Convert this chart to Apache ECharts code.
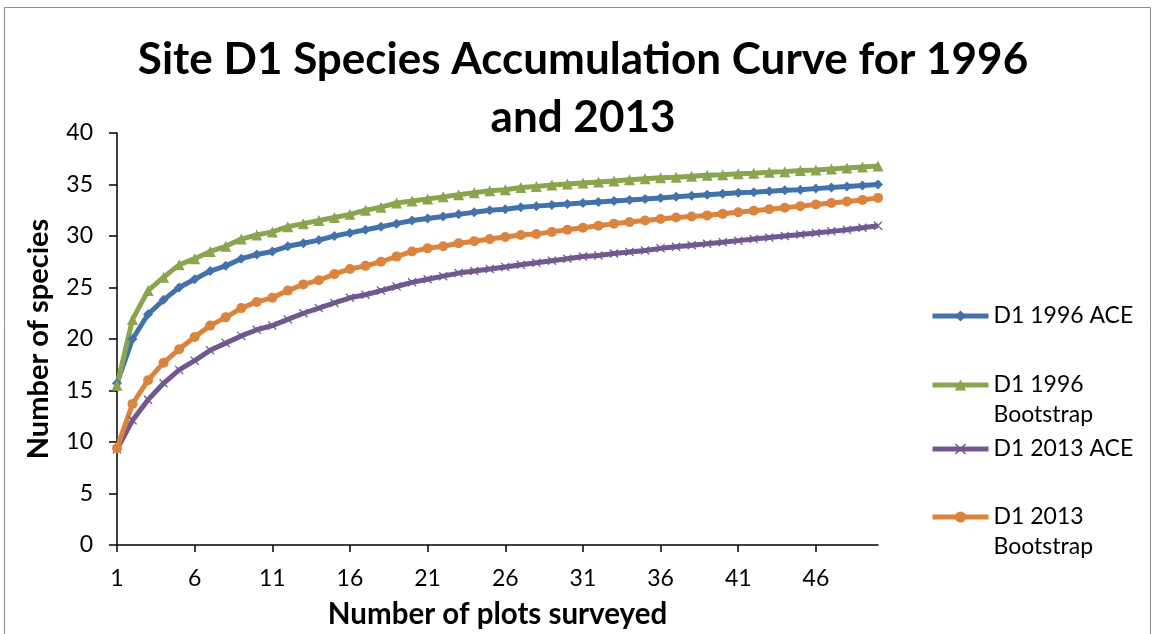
<!DOCTYPE html>
<html>
<head>
<meta charset="utf-8">
<title>Site D1 Species Accumulation Curve</title>
<script src="https://cdn.jsdelivr.net/npm/echarts@6/dist/echarts.min.js"></script>
<style>
  html, body { margin: 0; padding: 0; background: #fff; }
  #chart { width: 1155px; height: 634px; }
</style>
</head>
<body>
<div id="chart"></div>
<script>
// Plots surveyed (x categories)
const plots = Array.from({ length: 50 }, (_, i) => String(i + 1));

// Estimated species richness per number of plots
const d1996Ace = [
  15.7, 20.0, 22.4, 23.8, 25.0, 25.8, 26.6, 27.1, 27.8, 28.2,
  28.5, 29.0, 29.3, 29.6, 30.0, 30.3, 30.6, 30.9, 31.2, 31.5,
  31.7, 31.9, 32.1, 32.3, 32.5, 32.6, 32.8, 32.9, 33.0, 33.1,
  33.2, 33.3, 33.4, 33.5, 33.6, 33.7, 33.8, 33.9, 34.0, 34.1,
  34.2, 34.25, 34.35, 34.45, 34.5, 34.6, 34.7, 34.8, 34.9, 35.0
];
const d1996Boot = [
  15.5, 21.9, 24.7, 26.0, 27.2, 27.8, 28.5, 29.0, 29.7, 30.1,
  30.4, 30.9, 31.2, 31.5, 31.8, 32.1, 32.5, 32.8, 33.2, 33.4,
  33.6, 33.8, 34.0, 34.2, 34.4, 34.5, 34.7, 34.8, 34.95, 35.05,
  35.15, 35.25, 35.35, 35.45, 35.55, 35.65, 35.7, 35.8, 35.9, 35.95,
  36.05, 36.1, 36.2, 36.25, 36.35, 36.4, 36.5, 36.6, 36.7, 36.8
];
const d2013Ace = [
  9.3, 12.1, 14.1, 15.7, 17.0, 17.9, 18.9, 19.6, 20.3, 20.9,
  21.3, 21.9, 22.5, 23.0, 23.5, 24.0, 24.3, 24.7, 25.1, 25.5,
  25.8, 26.1, 26.4, 26.6, 26.8, 27.0, 27.2, 27.4, 27.6, 27.8,
  28.0, 28.1, 28.3, 28.45, 28.6, 28.8, 28.95, 29.1, 29.25, 29.4,
  29.55, 29.7, 29.85, 30.0, 30.15, 30.3, 30.45, 30.6, 30.8, 31.0
];
const d2013Boot = [
  9.4, 13.7, 16.0, 17.7, 19.0, 20.2, 21.3, 22.1, 23.0, 23.6,
  24.0, 24.7, 25.3, 25.7, 26.3, 26.8, 27.1, 27.5, 28.0, 28.5,
  28.8, 29.0, 29.3, 29.5, 29.7, 29.9, 30.1, 30.2, 30.4, 30.6,
  30.8, 31.0, 31.2, 31.35, 31.5, 31.65, 31.8, 31.9, 32.0, 32.15,
  32.3, 32.45, 32.6, 32.75, 32.9, 33.05, 33.2, 33.35, 33.5, 33.7
];

const seriesNames = ['D1 1996 ACE', 'D1 1996 Bootstrap', 'D1 2013 ACE', 'D1 2013 Bootstrap'];
// Legend labels; the wrapped ones start with an empty line so that the
// swatch (centred on the text block) lines up with the first text line.
const legendLabels = ['D1 1996 ACE', '\nD1 1996\nBootstrap', 'D1 2013 ACE', '\nD1 2013\nBootstrap'];
const colors = ['#4372AA', '#89A54E', '#71588F', '#DB843D'];

const FONT = 'Lato, "Open Sans", sans-serif';
const crossPath = 'path://M0,1 L1,0 L5,4 L9,0 L10,1 L6,5 L10,9 L9,10 L5,6 L1,10 L0,9 L4,5 Z';

function lineSeries(name, data, color, symbol, size) {
  return {
    name, type: 'line', data,
    symbol, symbolSize: size,
    showAllSymbol: true,
    lineStyle: { color, width: 5 },
    itemStyle: { color },
    emphasis: { disabled: true }
  };
}

// One legend block per entry, each on its own row.
const legendTops = [301, 340, 434, 472];
const legends = seriesNames.map((name, i) => ({
  data: [name],
  orient: 'vertical',
  left: 930,
  top: legendTops[i],
  padding: 0,
  itemWidth: 56,
  itemHeight: 14,
  selectedMode: false,
  lineStyle: { width: 5 },
  formatter: () => legendLabels[i],
  textStyle: { fontFamily: FONT, fontSize: 23, color: '#000', lineHeight: 30 }
}));

const chart = echarts.init(document.getElementById('chart'), null, { renderer: 'canvas' });
chart.setOption({
  animation: false,
  backgroundColor: '#fff',
  title: {
    text: 'Site D1 Species Accumulation Curve for 1996\nand 2013',
    left: 583, top: 31, padding: 0,
    textAlign: 'center',
    textStyle: { fontFamily: FONT, fontSize: 44, fontWeight: 'bold', color: '#000', lineHeight: 58 }
  },
  graphic: [{
    type: 'rect', silent: true, z: -1,
    shape: { x: 4.5, y: 7.5, width: 1146, height: 660 },
    style: { fill: 'none', stroke: '#8c8c8c', lineWidth: 1 }
  }],
  legend: legends,
  grid: { left: 117, right: 277, top: 133, bottom: 89, containLabel: false },
  xAxis: {
    type: 'category', data: plots, boundaryGap: false,
    name: 'Number of plots surveyed', nameLocation: 'middle', nameGap: 54,
    nameTextStyle: { fontFamily: FONT, fontSize: 29.5, fontWeight: 'bold', color: '#000' },
    axisLine: { lineStyle: { color: '#000', width: 1.5 } },
    axisTick: { show: true, interval: 4, length: 7, lineStyle: { color: '#000', width: 1.5 } },
    axisLabel: { interval: 4, margin: 22, fontFamily: FONT, fontSize: 23, color: '#000' },
    splitLine: { show: false }
  },
  yAxis: {
    type: 'value', min: 0, max: 40, interval: 5,
    name: 'Number of species', nameLocation: 'middle', nameGap: 64,
    nameTextStyle: { fontFamily: FONT, fontSize: 29, fontWeight: 'bold', color: '#000' },
    axisLine: { show: true, lineStyle: { color: '#000', width: 1.5 } },
    axisTick: { show: true, length: 8, lineStyle: { color: '#000', width: 1.5 } },
    axisLabel: { margin: 24, fontFamily: FONT, fontSize: 23, color: '#000' },
    splitLine: { show: false }
  },
  series: [
    lineSeries(seriesNames[0], d1996Ace, colors[0], 'diamond', 10),
    lineSeries(seriesNames[1], d1996Boot, colors[1], 'triangle', 11),
    lineSeries(seriesNames[2], d2013Ace, colors[2], crossPath, 9),
    lineSeries(seriesNames[3], d2013Boot, colors[3], 'circle', 10)
  ]
});
</script>
</body>
</html>
